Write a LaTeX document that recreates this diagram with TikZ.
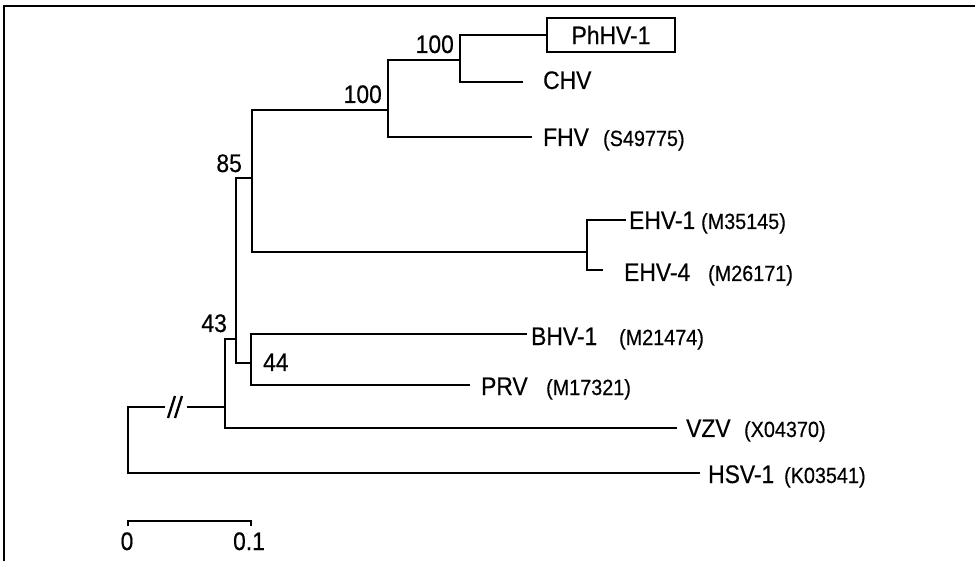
\documentclass[tikz,border=0pt]{standalone}
\usepackage{fontspec}
\setmainfont[FakeStretch=0.9,FakeBold=0.4]{Liberation Sans}
\begin{document}
\begin{tikzpicture}[x=0.5pt,y=-0.5pt,line width=1.15pt,
  leaf/.style={anchor=base west,inner sep=0pt,font=\fontsize{12.7}{14}\selectfont},
  acc/.style={anchor=base west,inner sep=0pt,font=\fontsize{11}{13}\selectfont},
  boot/.style={inner sep=0pt,font=\fontsize{12.7}{14}\selectfont},
  boxed/.style={draw,line width=1.4pt,inner sep=0pt,minimum width=64pt,minimum height=17pt,font=\fontsize{12.7}{14}\selectfont}]
\useasboundingbox (0,0) rectangle (975,561);
% frame
\coordinate (fbl) at (4,561);
\coordinate (ftl) at (4,6);
\coordinate (ftr) at (975,6);
\draw (fbl) -- (ftl) -- (ftr);
% internal nodes
\coordinate (root) at (128,407);
\coordinate (b1) at (165,407);
\coordinate (b2) at (187,407);
\coordinate (r2) at (225,407);
\coordinate (n43) at (236,339);
\coordinate (n44) at (251,363);
\coordinate (n85) at (252,178);
\coordinate (nehv) at (587,252);
\coordinate (n100b) at (388,110);
\coordinate (n100a) at (460,60);
% leaf line ends
\coordinate (chvE) at (523,82);
\coordinate (fhvE) at (532,137);
\coordinate (ehv1E) at (626,220);
\coordinate (ehv4E) at (603,270);
\coordinate (bhvE) at (527,334);
\coordinate (prvE) at (470,385);
\coordinate (vzvE) at (677,428);
\coordinate (hsvE) at (700,473);
% leaves
\node[boxed] (phhv) at (611,35) {PhHV-1};
\node[leaf] (chv) at (542,89) {CHV};
\node[leaf] (fhv) at (542,146) {FHV};
\node[acc] (fhva) at (602,146) {(S49775)};
\node[leaf] (ehv1) at (628,229) {EHV-1};
\node[acc] (ehv1a) at (700,229) {(M35145)};
\node[leaf] (ehv4) at (623,281) {EHV-4};
\node[acc] (ehv4a) at (707,281) {(M26171)};
\node[leaf] (bhv) at (530,345) {BHV-1};
\node[acc] (bhva) at (618,345) {(M21474)};
\node[leaf] (prv) at (480,395) {PRV};
\node[acc] (prva) at (545,395) {(M17321)};
\node[leaf] (vzv) at (685,437) {VZV};
\node[acc] (vzva) at (743,437) {(X04370)};
\node[leaf] (hsv) at (707,483) {HSV-1};
\node[acc] (hsva) at (783,483) {(K03541)};
% bootstrap values
\node[boot,anchor=base east] (l100a) at (455,53) {100};
\node[boot,anchor=base east] (l100b) at (383,103) {100};
\node[boot,anchor=base east] (l85) at (243,172) {85};
\node[boot,anchor=base east] (l43) at (228,332) {43};
\node[boot,anchor=base west] (l44) at (262,371) {44};
% branches
\draw (n100a) |- (phhv.west);
\draw (n100a) |- (chvE);
\draw (n100b) |- (n100a);
\draw (n100b) |- (fhvE);
\draw (n85) |- (n100b);
\draw (n85) |- (nehv);
\draw (nehv) |- (ehv1E);
\draw (nehv) |- (ehv4E);
\draw (n43) |- (n85);
\draw (n43) |- (n44);
\draw (n44) |- (bhvE);
\draw (n44) |- (prvE);
\draw (r2) |- (n43);
\draw (r2) |- (vzvE);
\draw (b1) -- (root) |- (hsvE);
\draw (b2) -- (r2);
% break mark
\coordinate (s1a) at (168,418);
\coordinate (s1b) at (175,396);
\coordinate (s2a) at (175,418);
\coordinate (s2b) at (182,396);
\draw (s1a) -- (s1b);
\draw (s2a) -- (s2b);
% scale bar
\coordinate (sc0) at (128,521);
\coordinate (sc1) at (251,521);
\coordinate (sc0d) at (128,526);
\coordinate (sc1d) at (251,526);
\draw (sc0d) -- (sc0) -- (sc1) -- (sc1d);
\node[boot,anchor=base] (z0) at (127,550) {0};
\node[boot,anchor=base] (z1) at (249,550) {0.1};
\end{tikzpicture}
\end{document}
